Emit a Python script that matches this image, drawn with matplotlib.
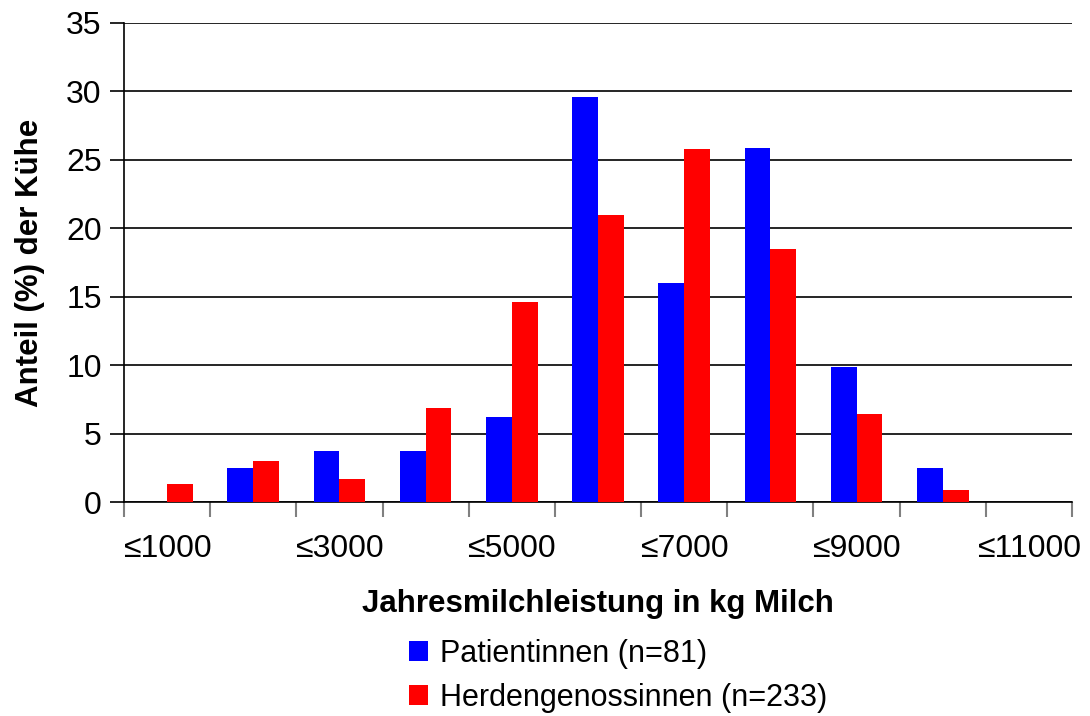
import numpy as np
import matplotlib
matplotlib.use('Agg')
import matplotlib.pyplot as plt

plt.rcParams['font.family'] = ['Liberation Sans', 'DejaVu Sans']

# Data (percent of cows per milk-yield class).
categories = ['≤1000', '≤2000', '≤3000', '≤4000', '≤5000', '≤6000',
              '≤7000', '≤8000', '≤9000', '≤10000', '≤11000']
patientinnen = [0, 2.5, 3.7, 3.7, 6.2, 29.6, 16.0, 25.9, 9.9, 2.5, 0]
herde = [1.3, 3.0, 1.7, 6.9, 14.6, 21.0, 25.8, 18.5, 6.4, 0.9, 0]
series_labels = ['Patientinnen (n=81)', 'Herdengenossinnen (n=233)']

fig = plt.figure(figsize=(10.9, 7.16), dpi=100)
ax = fig.add_axes([124 / 1090, 1 - 502 / 716, (1072 - 124) / 1090, (502 - 23) / 716])

x = np.arange(len(categories))
w = 0.3
ax.bar(x - w / 2, patientinnen, w, color='#0000ff', label=series_labels[0], zorder=3)
ax.bar(x + w / 2, herde, w, color='#ff0000', label=series_labels[1], zorder=3)

ax.set_xlim(-0.5, len(categories) - 0.5)
ax.set_ylim(0, 35)
ax.set_yticks(np.arange(0, 36, 5))
ax.yaxis.grid(True, color='black', lw=1.2, zorder=1)
ax.tick_params(axis='y', length=10, width=1.2, pad=6, labelsize=23)

# ticks at class boundaries, labels on every other class centre
ax.set_xticks(np.arange(-0.5, len(categories), 1))
ax.set_xticklabels([])
ax.tick_params(axis='x', which='major', length=11, width=1.5, color='#808080')
ax.set_xticks(x[::2], minor=True)
ax.set_xticklabels(categories[::2], minor=True)
ax.tick_params(axis='x', which='minor', length=0, pad=23, labelsize=23)

for s in ['top', 'right']:
    ax.spines[s].set_visible(False)
ax.spines['left'].set_linewidth(1.2)
ax.spines['bottom'].set_linewidth(1.2)

ax.set_xlabel('Jahresmilchleistung in kg Milch', fontsize=22.5, fontweight='bold', labelpad=18)
ax.set_ylabel('Anteil (%) der Kühe', fontsize=22.5, fontweight='bold', labelpad=15)

fig.legend(loc='upper left', bbox_to_anchor=(409 / 1090, 1 - 639 / 716),
           frameon=False, fontsize=22, borderpad=0, borderaxespad=0,
           handlelength=0.62, handleheight=0.62, handletextpad=0.4,
           labelspacing=0.45)

fig.savefig('out.png', dpi=100)
